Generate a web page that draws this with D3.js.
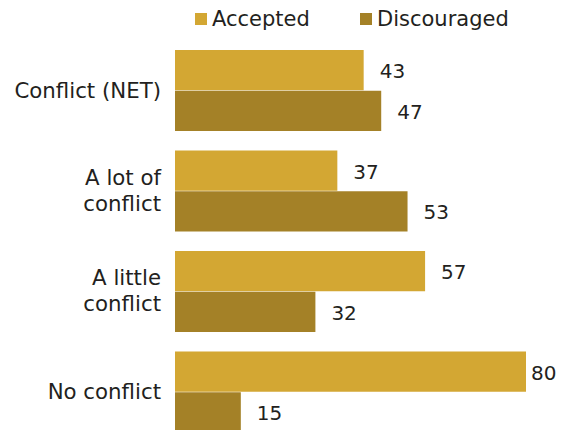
<!DOCTYPE html>
<html><head><meta charset="utf-8">
<script src="https://cdn.jsdelivr.net/npm/d3@7"></script>
<style>body{margin:0;background:#fff}svg{display:block}</style>
</head><body>
<script>
const categories = ["Conflict (NET)", "A lot of conflict", "A little conflict", "No conflict"];
const categoryLines = [["Conflict (NET)"], ["A lot of", "conflict"], ["A little", "conflict"], ["No conflict"]];
const seriesNames = ["Accepted", "Discouraged"];
const accepted = [43, 37, 57, 80];
const discouraged = [47, 53, 32, 15];
const colors = ["#D3A733", "#A48127"];

const W = 568, H = 430;
const svg = d3.select("body").append("svg").attr("width", W).attr("height", H)
  .style("font-family", "'DejaVu Sans', Verdana, sans-serif");

const x = d3.scaleLinear().domain([0, 80]).range([175, 526]);
const y = d3.scaleBand().domain(categories).range([50, 432.5]).paddingInner(0.194).paddingOuter(0);
const ys = d3.scaleBand().domain(seriesNames).range([0, y.bandwidth()]).paddingInner(0.0125);

const data = categories.map((c, i) => ({cat: c, lines: categoryLines[i], vals: [accepted[i], discouraged[i]]}));

const g = svg.selectAll("g.grp").data(data).join("g").attr("class", "grp")
  .attr("transform", d => `translate(0,${y(d.cat)})`);

g.selectAll("rect").data(d => d.vals.map((v, j) => ({v, s: seriesNames[j], j})))
  .join("rect")
  .attr("x", x(0)).attr("y", d => ys(d.s))
  .attr("width", d => x(d.v) - x(0)).attr("height", ys.bandwidth())
  .attr("fill", d => colors[d.j]);

g.selectAll("text.val").data(d => d.vals.map((v, j) => ({v, s: seriesNames[j]})))
  .join("text").attr("class", "val")
  .attr("x", d => Math.min(x(d.v) + 16, 531))
  .attr("y", d => ys(d.s) + ys.bandwidth() / 2 + 8)
  .attr("font-size", 20).attr("fill", "#231F20")
  .text(d => d.v);

// category labels
g.each(function(d) {
  const n = d.lines.length;
  const lh = 26;
  const c = y.bandwidth() / 2;
  const t = d3.select(this).append("text").attr("text-anchor", "end")
    .attr("font-size", 21.3).attr("fill", "#231F20");
  d.lines.forEach((ln, k) => {
    t.append("tspan").attr("x", 161)
      .attr("y", c + 7 + (k - (n - 1) / 2) * lh)
      .text(ln);
  });
});

// legend
const legendX = [195, 360];
const lg = svg.selectAll("g.leg").data(seriesNames).join("g").attr("class", "leg")
  .attr("transform", (d, i) => `translate(${legendX[i]},0)`);
lg.append("rect").attr("x", 0).attr("y", 13).attr("width", 12).attr("height", 12)
  .attr("fill", (d, i) => colors[i]);
lg.append("text").attr("x", 17).attr("y", 26).attr("font-size", 21).attr("fill", "#231F20")
  .text(d => d);
</script>
</body></html>
